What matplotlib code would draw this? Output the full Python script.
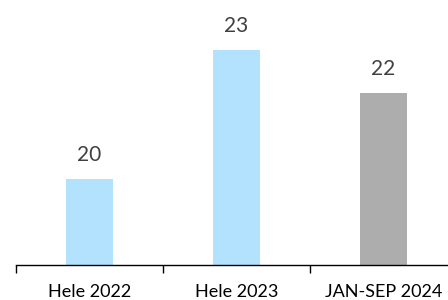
import matplotlib
matplotlib.use('Agg')
import matplotlib.pyplot as plt
from matplotlib.ticker import FixedLocator, NullFormatter

categories = ['Hele 2022', 'Hele 2023', 'JAN-SEP 2024']
values = [20, 23, 22]
colors = ['#B3E2FF', '#B3E2FF', '#ADADAD']

plt.rcParams['font.family'] = ['Lato', 'DejaVu Sans']

fig = plt.figure(figsize=(4.48, 3.0), dpi=100)
# axes runs a little past the right edge, like the original
ax = fig.add_axes([16 / 448, 35 / 300, 441 / 448, 258 / 300])

x = list(range(len(categories)))
ax.bar(x, values, width=0.32, color=colors, bottom=0)
ax.set_ylim(18, 24)
ax.set_xlim(-0.5, len(categories) - 0.5)

for xi, v in zip(x, values):
    ax.annotate(str(v), (xi, v), xytext=(0, 13), textcoords='offset points',
                ha='center', va='baseline', fontsize=15, color='#404040')

for s in ['top', 'right', 'left']:
    ax.spines[s].set_visible(False)
ax.spines['bottom'].set_color('#000000')
ax.spines['bottom'].set_linewidth(1.0)
ax.set_yticks([])

ax.set_xticks(x)
ax.set_xticklabels(categories, fontsize=13, color='#000000')
ax.tick_params(axis='x', which='major', length=0, pad=14)
ax.xaxis.set_minor_locator(FixedLocator([i - 0.5 for i in range(len(categories) + 1)]))
ax.xaxis.set_minor_formatter(NullFormatter())
ax.tick_params(axis='x', which='minor', length=6, width=1.0, color='#000000')

fig.savefig('out.png', dpi=100)
